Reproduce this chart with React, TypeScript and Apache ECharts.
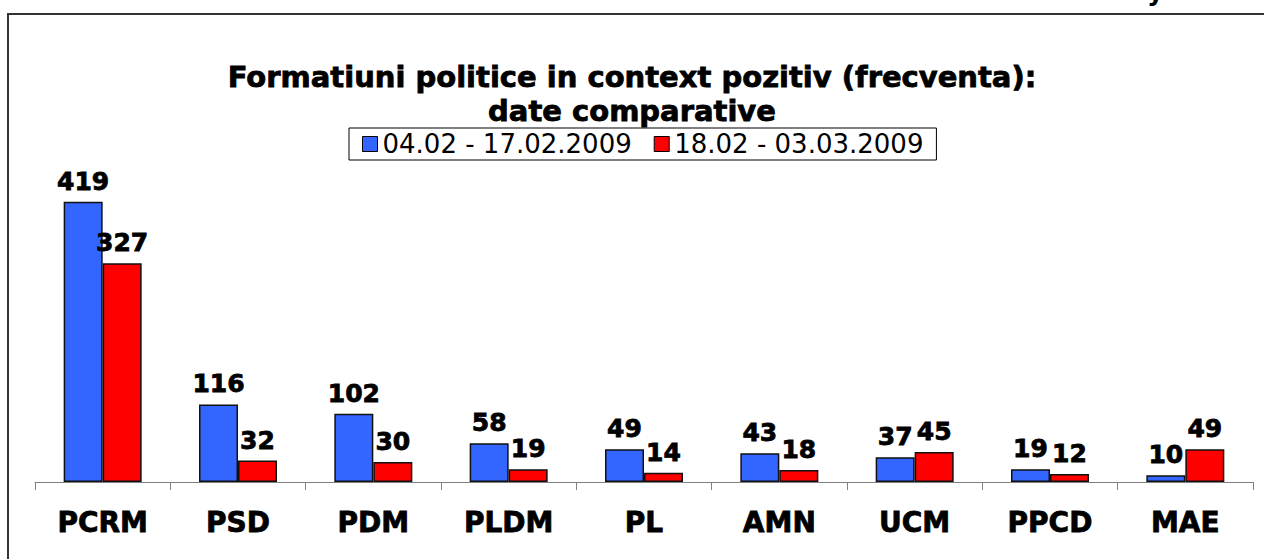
import React, { useEffect, useRef } from "react";
import * as echarts from "echarts";

const categories = ["PCRM", "PSD", "PDM", "PLDM", "PL", "AMN", "UCM", "PPCD", "MAE"];
const seriesNames = ["04.02 - 17.02.2009", "18.02 - 03.03.2009"];
const period1 = [419, 116, 102, 58, 49, 43, 37, 19, 10];
const period2 = [327, 32, 30, 19, 14, 18, 45, 12, 49];
const titleText = "Formatiuni politice in context pozitiv (frecventa):\ndate comparative";

const FONT = "Verdana, 'DejaVu Sans', sans-serif";

export default function App() {
  const ref = useRef<HTMLDivElement>(null);
  useEffect(() => {
    if (!ref.current) return;
    const chart = echarts.init(ref.current, undefined, { renderer: "svg" });
    const labelStyle = {
      show: true,
      position: "top" as const,
      distance: 8,
      fontFamily: FONT,
      fontWeight: "bold" as const,
      fontSize: 25,
      color: "#000",
      textBorderColor: "#000",
      textBorderWidth: 0.8,
    };
    chart.setOption({
      animation: false,
      backgroundColor: "#fff",
      title: {
        text: titleText,
        left: "center",
        top: 55,
        textStyle: {
          fontFamily: FONT,
          fontWeight: "bold",
          fontSize: 29,
          lineHeight: 34,
          color: "#000",
          textBorderColor: "#000",
          textBorderWidth: 0.8,
        },
      },
      legend: {
        data: seriesNames,
        top: 128,
        left: 349,
        icon: "rect",
        itemWidth: 15,
        itemHeight: 15,
        itemGap: 22,
        padding: [3, 13],
        borderColor: "#000",
        borderWidth: 1,
        itemStyle: { borderColor: "#000", borderWidth: 1 },
        textStyle: { fontFamily: FONT, fontSize: 26, color: "#000" },
      },
      grid: { left: 35, right: 11, top: 181, bottom: 77 },
      xAxis: {
        type: "category",
        data: categories,
        axisLine: { lineStyle: { color: "#808080", width: 1 } },
        axisTick: { show: true, length: 8, lineStyle: { color: "#808080" } },
        axisLabel: {
          margin: 26,
          fontFamily: FONT,
          fontWeight: "bold",
          fontSize: 28,
          color: "#000",
          textBorderColor: "#000",
          textBorderWidth: 0.8,
        },
      },
      yAxis: {
        type: "value",
        min: 0,
        max: 450,
        show: false,
        splitLine: { show: false },
      },
      series: [
        {
          name: seriesNames[0],
          type: "bar",
          data: period1,
          barWidth: 39,
          barGap: "0%",
          itemStyle: { color: "#3366FF", borderColor: "#111", borderWidth: 1.5 },
          label: labelStyle,
        },
        {
          name: seriesNames[1],
          type: "bar",
          data: period2,
          barWidth: 39,
          itemStyle: { color: "#FF0000", borderColor: "#111", borderWidth: 1.5 },
          label: labelStyle,
        },
      ],
      graphic: [
        {
          type: "rect",
          z: 100,
          shape: { x: 1236, y: 16, width: 40, height: 50 },
          style: { fill: "#fff" },
          silent: true,
        },
        {
          type: "line",
          z: 101,
          shape: { x1: 7, y1: 14, x2: 1270, y2: 14 },
          style: { stroke: "#333", lineWidth: 2 },
          silent: true,
        },
        {
          type: "line",
          z: 101,
          shape: { x1: 8, y1: 13, x2: 8, y2: 565 },
          style: { stroke: "#333", lineWidth: 2 },
          silent: true,
        },
        {
          type: "text",
          x: 1147,
          y: -22,
          style: { text: "y", fontFamily: FONT, fontWeight: "bold", fontSize: 26, fill: "#000" },
          silent: true,
        },
      ],
    });
    return () => chart.dispose();
  }, []);
  return (
    <div
      ref={ref}
      style={{ position: "fixed", left: 0, top: 0, width: 1264, height: 559 }}
    />
  );
}
